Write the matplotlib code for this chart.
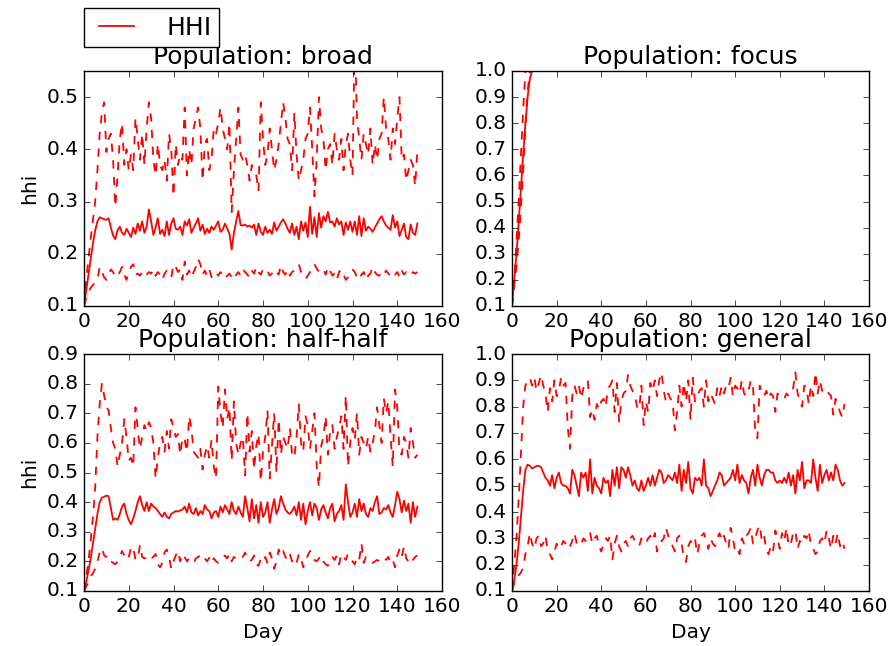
import matplotlib
matplotlib.use("Agg")
import matplotlib.pyplot as plt

plt.style.use('classic')
plt.rcParams['font.size'] = 14.5
plt.rcParams['font.family'] = ['DejaVu Sans']

days = list(range(150))

broad_mean = [
    0.100, 0.130, 0.160, 0.190, 0.220, 0.245, 0.262, 0.270, 0.268, 0.266,
    0.265, 0.268, 0.250, 0.235, 0.228, 0.245, 0.252, 0.240, 0.236, 0.248,
    0.240, 0.232, 0.250, 0.238, 0.258, 0.244, 0.262, 0.240, 0.252, 0.285,
    0.262, 0.236, 0.250, 0.268, 0.238, 0.246, 0.234, 0.262, 0.236, 0.258,
    0.268, 0.248, 0.246, 0.252, 0.236, 0.262, 0.254, 0.266, 0.240, 0.250,
    0.258, 0.268, 0.244, 0.256, 0.238, 0.248, 0.240, 0.252, 0.246, 0.254,
    0.262, 0.242, 0.246, 0.258, 0.248, 0.238, 0.208, 0.240, 0.262, 0.282,
    0.255, 0.254, 0.256, 0.252, 0.254, 0.250, 0.256, 0.236, 0.258, 0.242,
    0.236, 0.252, 0.240, 0.246, 0.238, 0.260, 0.244, 0.252, 0.260, 0.266,
    0.258, 0.248, 0.240, 0.258, 0.236, 0.252, 0.228, 0.262, 0.244, 0.260,
    0.232, 0.290, 0.238, 0.270, 0.232, 0.278, 0.250, 0.272, 0.262, 0.280,
    0.260, 0.262, 0.252, 0.268, 0.256, 0.262, 0.236, 0.260, 0.246, 0.262,
    0.242, 0.262, 0.236, 0.272, 0.234, 0.268, 0.244, 0.252, 0.248, 0.242,
    0.250, 0.258, 0.266, 0.272, 0.262, 0.254, 0.250, 0.246, 0.274, 0.250,
    0.262, 0.234, 0.246, 0.258, 0.232, 0.228, 0.256, 0.240, 0.236, 0.258]
broad_upper = [
    0.100, 0.150, 0.190, 0.230, 0.265, 0.300, 0.360, 0.430, 0.470, 0.490,
    0.395, 0.420, 0.430, 0.380, 0.290, 0.350, 0.420, 0.450, 0.370, 0.400,
    0.360, 0.390, 0.360, 0.460, 0.420, 0.380, 0.430, 0.370, 0.440, 0.490,
    0.460, 0.380, 0.350, 0.410, 0.370, 0.360, 0.380, 0.340, 0.430, 0.400,
    0.310, 0.410, 0.370, 0.390, 0.380, 0.480, 0.350, 0.400, 0.370, 0.440,
    0.460, 0.480, 0.440, 0.340, 0.410, 0.420, 0.360, 0.380, 0.440, 0.430,
    0.450, 0.480, 0.440, 0.420, 0.400, 0.450, 0.280, 0.360, 0.420, 0.480,
    0.390, 0.380, 0.390, 0.370, 0.340, 0.370, 0.360, 0.350, 0.320, 0.490,
    0.420, 0.370, 0.390, 0.440, 0.400, 0.360, 0.380, 0.410, 0.450, 0.490,
    0.460, 0.420, 0.410, 0.360, 0.470, 0.390, 0.340, 0.360, 0.380, 0.420,
    0.430, 0.480, 0.400, 0.310, 0.380, 0.500, 0.440, 0.420, 0.360, 0.400,
    0.410, 0.370, 0.430, 0.400, 0.380, 0.420, 0.360, 0.410, 0.430, 0.380,
    0.350, 0.620, 0.460, 0.420, 0.380, 0.430, 0.410, 0.390, 0.440, 0.370,
    0.410, 0.380, 0.420, 0.430, 0.500, 0.440, 0.420, 0.380, 0.440, 0.410,
    0.460, 0.500, 0.380, 0.390, 0.340, 0.360, 0.380, 0.370, 0.330, 0.400]
broad_lower = [
    0.100, 0.115, 0.125, 0.135, 0.140, 0.145, 0.150, 0.175, 0.165, 0.155,
    0.150, 0.160, 0.170, 0.165, 0.155, 0.158, 0.165, 0.175, 0.160, 0.150,
    0.165, 0.175, 0.180, 0.160, 0.162, 0.158, 0.165, 0.168, 0.160, 0.165,
    0.162, 0.170, 0.158, 0.165, 0.160, 0.150, 0.162, 0.168, 0.160, 0.155,
    0.180, 0.175, 0.165, 0.170, 0.150, 0.185, 0.160, 0.168, 0.155, 0.165,
    0.175, 0.190, 0.180, 0.160, 0.168, 0.158, 0.170, 0.155, 0.160, 0.165,
    0.158, 0.165, 0.160, 0.152, 0.158, 0.162, 0.155, 0.150, 0.160, 0.165,
    0.158, 0.170, 0.165, 0.160, 0.155, 0.168, 0.162, 0.175, 0.165, 0.160,
    0.170, 0.165, 0.168, 0.158, 0.162, 0.170, 0.165, 0.160, 0.178, 0.165,
    0.160, 0.170, 0.158, 0.165, 0.168, 0.172, 0.180, 0.165, 0.160, 0.152,
    0.158, 0.165, 0.170, 0.180, 0.172, 0.165, 0.165, 0.170, 0.160, 0.175,
    0.168, 0.158, 0.162, 0.150, 0.165, 0.170, 0.160, 0.150, 0.155, 0.162,
    0.170, 0.165, 0.155, 0.150, 0.160, 0.165, 0.150, 0.158, 0.162, 0.175,
    0.165, 0.160, 0.158, 0.165, 0.160, 0.168, 0.162, 0.158, 0.165, 0.160,
    0.165, 0.155, 0.168, 0.160, 0.165, 0.160, 0.158, 0.165, 0.162, 0.165]

focus_mean = [0.100, 0.200, 0.300, 0.420, 0.550, 0.680, 0.800, 0.900, 0.970] + [1.0] * 141
focus_upper = [0.100, 0.200, 0.350, 0.500, 0.680, 0.850] + [1.0] * 144
focus_lower = [0.100, 0.180, 0.250, 0.350, 0.480, 0.620, 0.780, 0.920] + [1.0] * 142

half_mean = [
    0.100, 0.130, 0.170, 0.210, 0.260, 0.310, 0.360, 0.400, 0.415, 0.418,
    0.422, 0.420, 0.380, 0.340, 0.345, 0.340, 0.360, 0.385, 0.395, 0.360,
    0.340, 0.325, 0.345, 0.370, 0.400, 0.420, 0.390, 0.370, 0.400, 0.370,
    0.395, 0.385, 0.380, 0.370, 0.360, 0.350, 0.365, 0.350, 0.345, 0.360,
    0.365, 0.370, 0.368, 0.372, 0.375, 0.385, 0.365, 0.395, 0.365, 0.360,
    0.380, 0.355, 0.370, 0.360, 0.390, 0.375, 0.370, 0.345, 0.365, 0.370,
    0.350, 0.385, 0.365, 0.390, 0.375, 0.360, 0.400, 0.370, 0.360, 0.385,
    0.365, 0.350, 0.420, 0.380, 0.335, 0.410, 0.345, 0.390, 0.330, 0.400,
    0.350, 0.365, 0.400, 0.330, 0.375, 0.410, 0.360, 0.380, 0.420, 0.395,
    0.375, 0.365, 0.360, 0.370, 0.385, 0.355, 0.400, 0.340, 0.395, 0.325,
    0.370, 0.400, 0.355, 0.395, 0.380, 0.340, 0.375, 0.390, 0.365, 0.345,
    0.380, 0.395, 0.335, 0.360, 0.370, 0.390, 0.340, 0.460, 0.400, 0.350,
    0.365, 0.395, 0.350, 0.410, 0.370, 0.395, 0.360, 0.350, 0.380, 0.370,
    0.400, 0.420, 0.360, 0.365, 0.380, 0.375, 0.390, 0.365, 0.350, 0.390,
    0.435, 0.410, 0.365, 0.405, 0.370, 0.395, 0.330, 0.400, 0.350, 0.385]
half_upper = [
    0.100, 0.150, 0.200, 0.270, 0.350, 0.450, 0.620, 0.730, 0.800, 0.760,
    0.720, 0.710, 0.650, 0.600, 0.580, 0.520, 0.560, 0.600, 0.680, 0.620,
    0.540, 0.550, 0.520, 0.720, 0.650, 0.580, 0.620, 0.660, 0.640, 0.670,
    0.650, 0.600, 0.480, 0.550, 0.600, 0.620, 0.570, 0.640, 0.580, 0.680,
    0.650, 0.620, 0.630, 0.560, 0.620, 0.610, 0.570, 0.690, 0.650, 0.570,
    0.560, 0.550, 0.580, 0.510, 0.560, 0.590, 0.550, 0.610, 0.520, 0.480,
    0.790, 0.700, 0.650, 0.780, 0.680, 0.720, 0.540, 0.740, 0.600, 0.560,
    0.600, 0.620, 0.490, 0.700, 0.570, 0.640, 0.510, 0.590, 0.630, 0.470,
    0.570, 0.620, 0.710, 0.480, 0.590, 0.700, 0.500, 0.680, 0.560, 0.620,
    0.600, 0.580, 0.650, 0.560, 0.550, 0.620, 0.730, 0.600, 0.570, 0.690,
    0.660, 0.580, 0.640, 0.700, 0.520, 0.450, 0.590, 0.620, 0.690, 0.560,
    0.640, 0.660, 0.580, 0.620, 0.650, 0.690, 0.580, 0.760, 0.520, 0.600,
    0.650, 0.610, 0.700, 0.560, 0.620, 0.600, 0.580, 0.620, 0.570, 0.600,
    0.640, 0.720, 0.660, 0.600, 0.750, 0.700, 0.740, 0.620, 0.520, 0.780,
    0.720, 0.570, 0.560, 0.620, 0.600, 0.550, 0.650, 0.600, 0.550, 0.560]
half_lower = [
    0.100, 0.115, 0.130, 0.150, 0.160, 0.175, 0.200, 0.230, 0.245, 0.220,
    0.215, 0.220, 0.200, 0.195, 0.190, 0.200, 0.215, 0.235, 0.220, 0.205,
    0.215, 0.245, 0.250, 0.205, 0.210, 0.255, 0.215, 0.210, 0.212, 0.220,
    0.210, 0.215, 0.225, 0.190, 0.180, 0.195, 0.230, 0.240, 0.215, 0.175,
    0.200, 0.220, 0.235, 0.200, 0.225, 0.215, 0.200, 0.210, 0.205, 0.195,
    0.210, 0.215, 0.220, 0.205, 0.210, 0.200, 0.212, 0.195, 0.210, 0.200,
    0.195, 0.205, 0.215, 0.220, 0.210, 0.225, 0.200, 0.215, 0.210, 0.220,
    0.220, 0.215, 0.230, 0.210, 0.200, 0.205, 0.220, 0.190, 0.185, 0.210,
    0.200, 0.215, 0.195, 0.230, 0.210, 0.175, 0.200, 0.240, 0.220, 0.235,
    0.215, 0.205, 0.225, 0.200, 0.210, 0.195, 0.225, 0.210, 0.180, 0.200,
    0.220, 0.235, 0.215, 0.205, 0.200, 0.210, 0.220, 0.200, 0.190, 0.185,
    0.200, 0.215, 0.205, 0.220, 0.190, 0.225, 0.215, 0.205, 0.225, 0.210,
    0.200, 0.190, 0.215, 0.205, 0.260, 0.195, 0.215, 0.205, 0.200, 0.195,
    0.200, 0.205, 0.200, 0.198, 0.210, 0.205, 0.215, 0.195, 0.205, 0.180,
    0.220, 0.240, 0.215, 0.250, 0.210, 0.200, 0.190, 0.205, 0.215, 0.220]

general_mean = [
    0.100, 0.140, 0.200, 0.280, 0.380, 0.480, 0.560, 0.580, 0.575, 0.565,
    0.570, 0.575, 0.575, 0.570, 0.550, 0.530, 0.520, 0.500, 0.540, 0.490,
    0.530, 0.550, 0.510, 0.500, 0.500, 0.490, 0.470, 0.560, 0.540, 0.500,
    0.460, 0.550, 0.530, 0.550, 0.480, 0.600, 0.470, 0.530, 0.500, 0.490,
    0.470, 0.530, 0.510, 0.520, 0.460, 0.560, 0.500, 0.570, 0.490, 0.570,
    0.560, 0.530, 0.570, 0.540, 0.500, 0.520, 0.490, 0.480, 0.520, 0.480,
    0.500, 0.530, 0.500, 0.540, 0.500, 0.530, 0.560, 0.550, 0.510, 0.520,
    0.540, 0.530, 0.520, 0.550, 0.510, 0.580, 0.480, 0.560, 0.510, 0.590,
    0.490, 0.470, 0.530, 0.520, 0.530, 0.500, 0.600, 0.500, 0.490, 0.460,
    0.480, 0.500, 0.520, 0.550, 0.540, 0.500, 0.510, 0.520, 0.530, 0.560,
    0.520, 0.580, 0.510, 0.540, 0.520, 0.510, 0.470, 0.530, 0.560, 0.500,
    0.580, 0.530, 0.500, 0.540, 0.560, 0.560, 0.550, 0.550, 0.520, 0.510,
    0.520, 0.510, 0.530, 0.510, 0.550, 0.500, 0.540, 0.470, 0.560, 0.520,
    0.590, 0.490, 0.520, 0.520, 0.510, 0.600, 0.530, 0.480, 0.580, 0.510,
    0.540, 0.560, 0.520, 0.550, 0.520, 0.580, 0.560, 0.520, 0.500, 0.510]
general_upper = [
    0.100, 0.200, 0.300, 0.450, 0.620, 0.800, 0.880, 0.900, 0.910, 0.880,
    0.910, 0.860, 0.890, 0.920, 0.880, 0.850, 0.780, 0.870, 0.820, 0.900,
    0.840, 0.860, 0.910, 0.880, 0.890, 0.720, 0.640, 0.840, 0.880, 0.850,
    0.880, 0.830, 0.870, 0.890, 0.900, 0.760, 0.790, 0.750, 0.810, 0.790,
    0.820, 0.830, 0.800, 0.870, 0.880, 0.900, 0.780, 0.890, 0.740, 0.820,
    0.850, 0.860, 0.920, 0.880, 0.860, 0.850, 0.800, 0.790, 0.880, 0.730,
    0.820, 0.780, 0.890, 0.860, 0.900, 0.840, 0.900, 0.930, 0.860, 0.820,
    0.850, 0.830, 0.820, 0.710, 0.780, 0.880, 0.800, 0.890, 0.820, 0.900,
    0.750, 0.910, 0.820, 0.840, 0.860, 0.870, 0.800, 0.900, 0.820, 0.850,
    0.830, 0.810, 0.870, 0.840, 0.880, 0.850, 0.880, 0.870, 0.910, 0.840,
    0.880, 0.870, 0.850, 0.900, 0.850, 0.840, 0.860, 0.900, 0.880, 0.700,
    0.680, 0.880, 0.850, 0.840, 0.860, 0.830, 0.850, 0.840, 0.780, 0.850,
    0.840, 0.840, 0.830, 0.850, 0.840, 0.860, 0.870, 0.930, 0.850, 0.820,
    0.800, 0.880, 0.870, 0.810, 0.880, 0.840, 0.930, 0.850, 0.900, 0.860,
    0.870, 0.860, 0.850, 0.840, 0.770, 0.830, 0.810, 0.780, 0.760, 0.810]
general_lower = [
    0.100, 0.130, 0.150, 0.160, 0.170, 0.190, 0.240, 0.270, 0.320, 0.280,
    0.260, 0.300, 0.310, 0.270, 0.280, 0.310, 0.250, 0.240, 0.220, 0.250,
    0.280, 0.260, 0.270, 0.290, 0.280, 0.260, 0.270, 0.290, 0.320, 0.280,
    0.270, 0.280, 0.300, 0.290, 0.310, 0.320, 0.280, 0.300, 0.310, 0.270,
    0.250, 0.280, 0.300, 0.290, 0.310, 0.220, 0.280, 0.310, 0.270, 0.250,
    0.280, 0.290, 0.270, 0.300, 0.310, 0.290, 0.280, 0.270, 0.300, 0.290,
    0.280, 0.300, 0.310, 0.290, 0.320, 0.250, 0.280, 0.290, 0.300, 0.340,
    0.310, 0.290, 0.270, 0.250, 0.300, 0.310, 0.280, 0.230, 0.210, 0.270,
    0.290, 0.280, 0.300, 0.240, 0.280, 0.310, 0.320, 0.290, 0.260, 0.300,
    0.280, 0.270, 0.300, 0.320, 0.290, 0.310, 0.280, 0.260, 0.340, 0.300,
    0.250, 0.260, 0.240, 0.300, 0.280, 0.310, 0.320, 0.340, 0.280, 0.300,
    0.330, 0.350, 0.290, 0.310, 0.250, 0.240, 0.270, 0.250, 0.330, 0.300,
    0.260, 0.320, 0.290, 0.340, 0.270, 0.280, 0.320, 0.330, 0.260, 0.290,
    0.280, 0.310, 0.300, 0.330, 0.270, 0.260, 0.240, 0.250, 0.290, 0.300,
    0.280, 0.330, 0.300, 0.260, 0.310, 0.280, 0.320, 0.270, 0.290, 0.260]

panels = [
    ("Population: broad", broad_mean, broad_upper, broad_lower, (0.1, 0.55)),
    ("Population: focus", focus_mean, focus_upper, focus_lower, (0.1, 1.0)),
    ("Population: half-half", half_mean, half_upper, half_lower, (0.1, 0.9)),
    ("Population: general", general_mean, general_upper, general_lower, (0.1, 1.0)),
]

W, H = 891, 646
fig = plt.figure(figsize=(W / 100, H / 100), dpi=100, facecolor='white')
rects = [
    (84, 71, 442, 306),
    (512, 71, 869, 306),
    (84, 354, 442, 591),
    (512, 354, 869, 591),
]
axes = []
for (l, t, r, b) in rects:
    ax = fig.add_axes([l / W, 1 - b / H, (r - l) / W, (b - t) / H])
    axes.append(ax)

for i, (ax, (title, m, up, lo, ylim)) in enumerate(zip(axes, panels)):
    ax.plot(days, m, color='r', linestyle='-', linewidth=1.3, label='HHI')
    ax.plot(days, up, color='r', linestyle='--', linewidth=1.3)
    ax.plot(days, lo, color='r', linestyle='--', linewidth=1.3)
    ax.set_xlim(0, 160)
    ax.set_ylim(*ylim)
    ax.set_title(title, fontsize=18)
    if i in (0, 2):
        ax.set_ylabel('hhi', fontsize=14.5)
    if i in (2, 3):
        ax.set_xlabel('Day', fontsize=14.5)
    ax.tick_params(labelsize=14.5)

axes[0].legend(loc='lower left', bbox_to_anchor=(0, 1.102), borderaxespad=0,
               fontsize=18, numpoints=2, handlelength=2.0, handletextpad=1.0,
               borderpad=0.3, fancybox=False, frameon=True)

fig.savefig('out.png', dpi=100, facecolor='white')
